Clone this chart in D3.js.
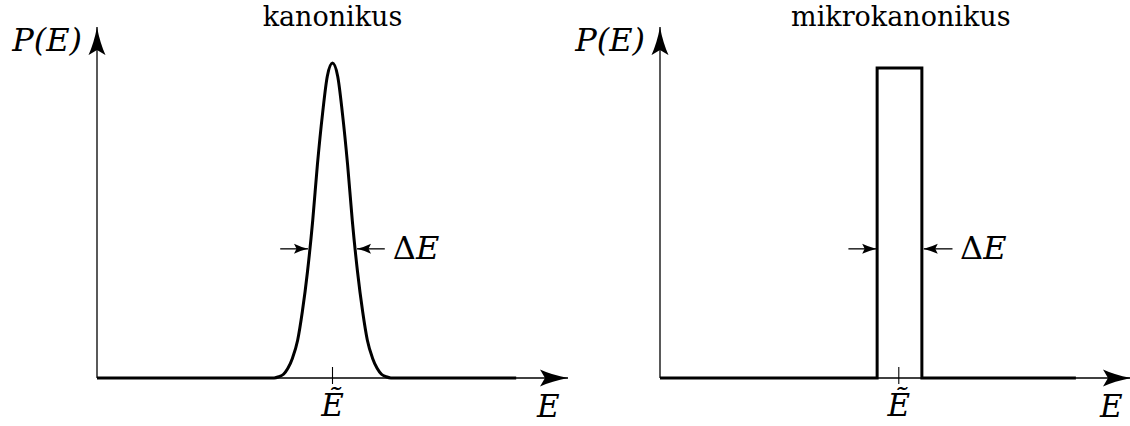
<!DOCTYPE html>
<html>
<head>
<meta charset="utf-8">
<script src="https://cdn.jsdelivr.net/npm/d3@7"></script>
<style>
  body { margin: 0; background: #fff; }
</style>
</head>
<body>
<svg id="chart" width="1130" height="426"></svg>
<script>
// panel titles
var titles = ['kanonikus', 'mikrokanonikus']

// canonical: P(E) sharply peaked at E~
var canonE = [0, 3.76, 3.86, 3.96, 4.05, 4.15, 4.26, 4.36, 4.47, 4.58, 4.68, 4.79, 4.89, 5.00,
              5.11, 5.21, 5.32, 5.42, 5.53, 5.64, 5.74, 5.85, 5.95, 6.04, 6.14, 6.24, 8.90]
var canonP = [0, 0, 0.004, 0.012, 0.030, 0.063, 0.120, 0.211, 0.339, 0.500, 0.678, 0.841, 0.958, 1.0,
              0.958, 0.841, 0.678, 0.500, 0.339, 0.211, 0.120, 0.063, 0.030, 0.012, 0.004, 0, 0]

// microcanonical: box of width dE around E~
var microE = [0, 4.61, 4.61, 5.56, 5.56, 8.83]
var microP = [0, 0, 0.984, 0.984, 0, 0]

var eTilde = [5.0, 5.07]
// dE arrows: [tail, tip] on each side, text position
var dLeftArrow = [[3.89, 4.48], [4.0, 4.59]]
var dRightArrow = [[6.11, 5.52], [6.21, 5.60]]
var dLabelE = [6.28, 6.37]
var dLevel = 0.41

var serif = 'DejaVu Serif'
var svg = d3.select('#chart').attr('font-family', serif)
var origins = [97, 660]
var axisLen = 471
var y0 = 378
var yscale = d3.scaleLinear().domain([0, 1]).range([y0, 63])

var defs = svg.append('defs')
defs.append('marker').attr('id', 'big')
    .attr('markerUnits', 'userSpaceOnUse')
    .attr('viewBox', '0 -9 28 18').attr('markerWidth', 28).attr('markerHeight', 18)
    .attr('refX', 28).attr('refY', 0).attr('orient', 'auto')
    .append('path').attr('d', 'M0,-8.5 Q12,-3 28,0 Q12,3 0,8.5 L5,0 Z').attr('fill', '#000')
defs.append('marker').attr('id', 'small')
    .attr('markerUnits', 'userSpaceOnUse')
    .attr('viewBox', '0 -6 14 12').attr('markerWidth', 14).attr('markerHeight', 12)
    .attr('refX', 14).attr('refY', 0).attr('orient', 'auto')
    .append('path').attr('d', 'M0,-5 Q6,-2 14,0 Q6,2 0,5 L2.5,0 Z').attr('fill', '#000')

var series = [[canonE, canonP], [microE, microP]]

for (var i = 0; i < 2; i++) {
    var x0 = origins[i]
    var xscale = d3.scaleLinear().domain([0, 10]).range([x0, x0 + axisLen])
    var g = svg.append('g')

    // axes
    g.append('line').attr('x1', x0).attr('y1', y0).attr('x2', xscale(10)).attr('y2', y0)
        .attr('stroke', '#000').attr('stroke-width', 1.3).attr('marker-end', 'url(#big)')
    g.append('line').attr('x1', x0).attr('y1', y0).attr('x2', x0).attr('y2', yscale(1.114))
        .attr('stroke', '#000').attr('stroke-width', 1.3).attr('marker-end', 'url(#big)')

    // tick at E~
    g.append('line').attr('x1', xscale(eTilde[i])).attr('x2', xscale(eTilde[i]))
        .attr('y1', y0 - 11).attr('y2', y0 + 6)
        .attr('stroke', '#000').attr('stroke-width', 1.1)

    // distribution
    var pts = d3.zip(series[i][0], series[i][1])
    var line = d3.line()
        .x(d => xscale(d[0]))
        .y(d => yscale(d[1]))
        .curve(i == 0 ? d3.curveMonotoneX : d3.curveLinear)
    g.append('path').datum(pts).attr('d', line)
        .attr('fill', 'none').attr('stroke', '#000').attr('stroke-width', 3)
        .attr('stroke-linejoin', 'miter')

    // width arrows
    var yd = yscale(dLevel)
    g.append('line').attr('x1', xscale(dLeftArrow[i][0])).attr('x2', xscale(dLeftArrow[i][1]))
        .attr('y1', yd).attr('y2', yd).attr('stroke', '#000').attr('stroke-width', 1.3)
        .attr('marker-end', 'url(#small)')
    g.append('line').attr('x1', xscale(dRightArrow[i][0])).attr('x2', xscale(dRightArrow[i][1]))
        .attr('y1', yd).attr('y2', yd).attr('stroke', '#000').attr('stroke-width', 1.3)
        .attr('marker-end', 'url(#small)')
    var dt = g.append('text').attr('x', xscale(dLabelE[i])).attr('y', yd + 10)
        .attr('font-size', 32)
    dt.append('tspan').text('Δ')
    dt.append('tspan').attr('font-style', 'italic').text('E')

    // labels
    g.append('text').attr('x', xscale(eTilde[i]) + (i == 0 ? 0 : 2)).attr('y', 26)
        .attr('text-anchor', 'middle').attr('font-size', 27).text(titles[i])
    g.append('text').attr('font-style', 'italic').attr('x', x0 - 15).attr('y', 51)
        .attr('text-anchor', 'end').attr('font-size', 32).text('P(E)')
    g.append('text').attr('font-style', 'italic').attr('x', xscale(eTilde[i])).attr('y', 416)
        .attr('text-anchor', 'middle').attr('font-size', 31).text('Ẽ')
    g.append('text').attr('font-style', 'italic').attr('x', xscale(9.58)).attr('y', 417)
        .attr('text-anchor', 'middle').attr('font-size', 31).text('E')
}
</script>
</body>
</html>
